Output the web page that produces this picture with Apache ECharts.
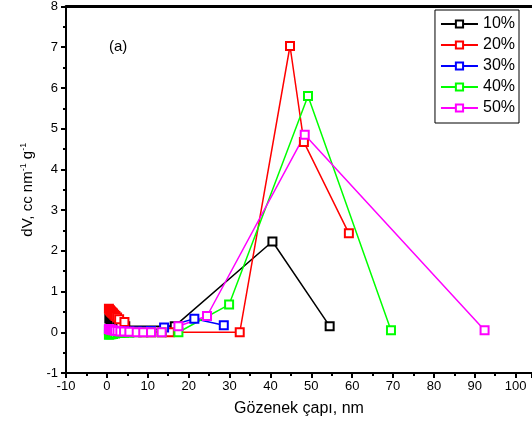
<!DOCTYPE html>
<html>
<head>
<meta charset="utf-8">
<script src="https://cdn.jsdelivr.net/npm/echarts@6/dist/echarts.min.js"></script>
<style>
  html, body { margin: 0; padding: 0; background: #fff; }
  #chart { width: 532px; height: 426px; }
</style>
</head>
<body>
<div id="chart"></div>
<script>
const names = ['10%', '20%', '30%', '40%', '50%']
const colors = ['#000000', '#ff0000', '#0000ff', '#00ff00', '#ff00ff']

// pore diameter (nm) and dV values
const x10 = [0.6, 0.9, 1.2, 1.5, 1.8, 2.2, 2.7, 3.3, 4.5, 16.6, 40.5, 54.5]
const y10 = [0.34, 0.31, 0.28, 0.26, 0.23, 0.21, 0.19, 0.17, 0.15, 0.15, 2.23, 0.15]

const x20 = [0.5, 0.7, 0.9, 1.1, 1.3, 1.5, 1.8, 2.1, 2.5, 3.0, 4.3, 7.3, 8.9, 10.8, 13.4, 15.4, 32.5, 44.8, 48.2, 59.2]
const y20 = [0.58, 0.55, 0.52, 0.5, 0.48, 0.46, 0.43, 0.4, 0.36, 0.32, 0.25, 0.01, 0.0, 0.0, 0.0, 0.0, 0.0, 7.03, 4.67, 2.43]

const x30 = [0.5, 0.8, 1.1, 1.5, 2.0, 2.6, 3.3, 4.2, 5.5, 7.3, 8.9, 10.8, 14.0, 21.4, 28.6]
const y30 = [0.05, 0.05, 0.04, 0.04, 0.03, 0.03, 0.03, 0.02, 0.02, 0.02, 0.02, 0.03, 0.12, 0.33, 0.17]

const x40 = [0.5, 0.8, 1.1, 1.5, 2.0, 2.6, 3.3, 4.2, 5.5, 7.3, 8.9, 10.8, 13.4, 17.5, 29.9, 49.2, 69.5]
const y40 = [-0.06, -0.05, -0.05, -0.04, -0.03, -0.02, -0.02, -0.01, -0.01, 0.0, 0.0, 0.0, 0.0, 0.0, 0.68, 5.8, 0.05]

const x50 = [0.5, 0.8, 1.1, 1.5, 2.0, 2.6, 3.3, 4.2, 5.5, 7.3, 8.9, 10.8, 13.4, 17.5, 24.5, 48.4, 92.4]
const y50 = [0.08, 0.07, 0.06, 0.05, 0.04, 0.03, 0.02, 0.02, 0.01, 0.0, 0.0, 0.0, 0.0, 0.15, 0.4, 4.85, 0.05]

const xs = [x10, x20, x30, x40, x50]
const ys = [y10, y20, y30, y40, y50]

const font = 'Liberation Sans, Arial, sans-serif'

const chart = echarts.init(document.getElementById('chart'))

chart.setOption({
  animation: false,
  color: colors,
  grid: {
    left: 66,
    top: 5,
    right: 0,
    bottom: 53
  },
  legend: {
    orient: 'vertical',
    right: 13,
    top: 10,
    borderColor: '#000',
    borderWidth: 1,
    padding: [6, 4, 7, 5],
    itemGap: 5,
    itemWidth: 37,
    itemHeight: 9,
    textStyle: {
      fontFamily: font,
      fontSize: 16,
      color: '#000'
    },
    data: names
  },
  graphic: [
    {
      type: 'text',
      left: 109,
      top: 39,
      style: { text: '(a)', fontFamily: font, fontSize: 15, fill: '#000' }
    }
  ],
  xAxis: [
    {
      type: 'value',
      min: -10,
      max: 104,
      interval: 10,
      name: 'Gözenek çapı, nm',
      nameLocation: 'middle',
      nameGap: 28,
      nameTextStyle: { fontFamily: font, fontSize: 16, color: '#000' },
      axisLine: { onZero: false, lineStyle: { color: '#000', width: 2 } },
      axisTick: { inside: false, length: 5, lineStyle: { width: 2 } },
      minorTick: { show: true, splitNumber: 2, length: 3, lineStyle: { color: '#000', width: 2 } },
      axisLabel: { fontFamily: font, fontSize: 13, color: '#000', margin: 7, showMaxLabel: false },
      splitLine: { show: false }
    },
    {
      type: 'value',
      position: 'top',
      min: -10,
      max: 104,
      axisLine: { onZero: false, lineStyle: { color: '#000', width: 3 } },
      axisTick: { show: false },
      axisLabel: { show: false },
      splitLine: { show: false }
    }
  ],
  yAxis: {
    type: 'value',
    min: -1,
    max: 8,
    interval: 1,
    name: 'dV, cc nm{sup|-1} g{sup|-1}',
    nameLocation: 'middle',
    nameGap: 30,
    nameTextStyle: {
      fontFamily: font,
      fontSize: 15,
      color: '#000',
      rich: {
        sup: { fontFamily: font, fontSize: 9, verticalAlign: 'top', padding: [0, 0, 8, 0], color: '#000' }
      }
    },
    axisLine: { onZero: false, lineStyle: { color: '#000', width: 2 } },
    axisTick: { inside: false, length: 5, lineStyle: { width: 2 } },
    minorTick: { show: true, splitNumber: 2, length: 3, lineStyle: { color: '#000', width: 2 } },
    axisLabel: { fontFamily: font, fontSize: 13, color: '#000', margin: 8 },
    splitLine: { show: false }
  },
  series: names.map((name, i) => ({
    name: name,
    type: 'line',
    data: xs[i].map((x, j) => [x, ys[i][j]]),
    symbol: 'rect',
    symbolSize: 8,
    showAllSymbol: true,
    lineStyle: { color: colors[i], width: 1.5 },
    itemStyle: { color: '#fff', borderColor: colors[i], borderWidth: 2 },
    emphasis: { disabled: true }
  }))
})
</script>
</body>
</html>
